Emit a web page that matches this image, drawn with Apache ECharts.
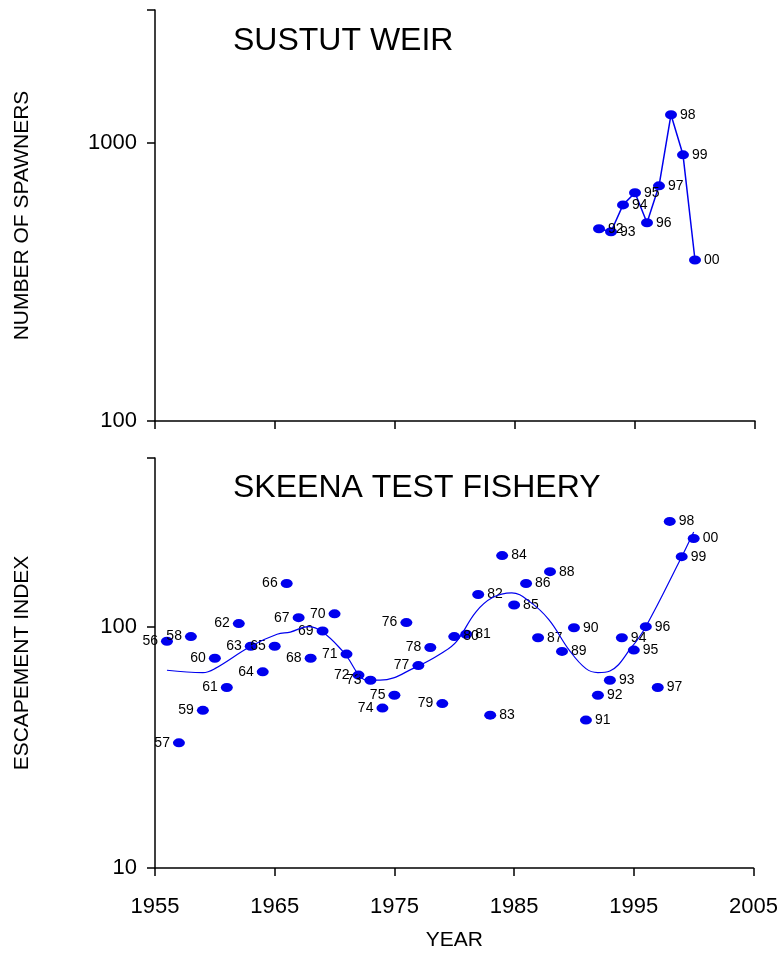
<!DOCTYPE html>
<html><head><meta charset="utf-8">
<script src="https://cdn.jsdelivr.net/npm/echarts@6/dist/echarts.min.js"></script>
<style>html,body{margin:0;background:#fff}#c{width:781px;height:958px}</style>
</head><body><div id="c"></div>
<script>
// Sustut weir counts
const weirYears = [1992, 1993, 1994, 1995, 1996, 1997, 1998, 1999, 2000];
const weirCounts = [491, 479, 598, 661, 516, 700, 1261, 905, 379];

// Skeena test fishery escapement index
const testYears = [1956,1957,1958,1959,1960,1961,1962,1963,1964,1965,1966,1967,1968,1969,1970,1971,1972,1973,1974,1975,1976,1977,1978,1979,1980,1981,1982,1983,1984,1985,1986,1987,1988,1989,1990,1991,1992,1993,1994,1995,1996,1997,1998,1999,2000];
const testIndex = [87,33,91,45,74,56,103,83,65,83,151,109,74,96,113,77,63,60,46,52,104,69,82,48,91,93,136,43,197,123,151,90,169,79,99,41,52,60,90,80,100,56,273,195,232];

// smoothed trend line
const trendYears = [1956,1959,1960,1963,1965.2,1966.3,1967.8,1969,1970.7,1972.8,1973.8,1976.8,1979,1980.2,1981.8,1983.2,1984.8,1986.3,1987.9,1989.6,1991,1992,1993,1994.8,1996,1998.75,2000];
const trendValues = [66,64.5,67,83,93,95,100,95,79,60,60,68,78,87,115,132,138,127,107,80,67,64.5,65.5,82,100,184,247];

const xTicks = [1955, 1965, 1975, 1985, 1995, 2005];

const font = 'Liberation Sans, Arial, sans-serif';
const blue = '#0000ee';
const yy = v => String(v % 100).padStart(2, '0');

function xAxis(idx, showLabels) {
  return {
    gridIndex: idx, type: 'value', min: 1955, max: 2005, interval: 10,
    name: showLabels ? 'YEAR' : '', nameLocation: 'middle', nameGap: 62,
    nameTextStyle: { fontFamily: font, fontSize: 21, color: '#000' },
    axisLine: { onZero: false, lineStyle: { color: '#000', width: 1.5 } },
    axisTick: { show: true, length: 8, lineStyle: { color: '#000', width: 1.5 } },
    axisLabel: { show: showLabels, fontFamily: font, fontSize: 22, color: '#000', margin: 28,
      formatter: v => (xTicks.includes(v) ? String(v) : '') },
    splitLine: { show: false }
  };
}
function yAxis(idx, min, max, name) {
  return {
    gridIndex: idx, type: 'log', logBase: 10, min: min, max: max,
    name: name, nameLocation: 'middle', nameGap: 122,
    nameTextStyle: { fontFamily: font, fontSize: 21, color: '#000' },
    axisLine: { lineStyle: { color: '#000', width: 1.5 } },
    axisTick: { length: 8, lineStyle: { color: '#000', width: 1.5 } },
    axisLabel: { fontFamily: font, fontSize: 22, color: '#000', margin: 18,
      formatter: v => ([10, 100, 1000].includes(Math.round(v)) ? String(Math.round(v)) : '') },
    splitLine: { show: false }
  };
}
const lbl = (pos) => ({ show: true, position: pos, distance: 3, fontFamily: font, fontSize: 14, color: '#000',
  formatter: p => yy(p.value[0]) });

const chart = echarts.init(document.getElementById('c'));
chart.setOption({
  animation: false,
  title: [
    { text: 'SUSTUT WEIR', left: 228, top: 20, textStyle: { fontFamily: font, fontSize: 32, fontWeight: 'normal', color: '#000' } },
    { text: 'SKEENA TEST FISHERY', left: 228, top: 467, textStyle: { fontFamily: font, fontSize: 32, fontWeight: 'normal', color: '#000' } }
  ],
  grid: [
    { left: 155, right: 26, top: 10, height: 411 },
    { left: 155, right: 26, top: 458, height: 410 }
  ],
  xAxis: [xAxis(0, false), xAxis(1, true)],
  yAxis: [yAxis(0, 100, 3000, 'NUMBER OF SPAWNERS'), yAxis(1, 10, 500, 'ESCAPEMENT INDEX')],
  series: [
    { type: 'line', xAxisIndex: 0, yAxisIndex: 0,
      data: weirYears.map((y, i) => [y, weirCounts[i]]),
      symbol: 'circle', symbolSize: [12, 9], itemStyle: { color: blue, opacity: 1 },
      lineStyle: { color: blue, width: 1.5 }, label: lbl('right') },
    { type: 'line', xAxisIndex: 1, yAxisIndex: 1, smooth: 0.4,
      data: trendYears.map((y, i) => [y, trendValues[i]]),
      symbol: 'none', lineStyle: { color: blue, width: 1.2 } },
    { type: 'scatter', xAxisIndex: 1, yAxisIndex: 1,
      data: testYears.map((y, i) => ({ value: [y, testIndex[i]], label: lbl(y < 1980 ? 'left' : 'right') })),
      symbol: 'circle', symbolSize: [12, 9], itemStyle: { color: blue, opacity: 1 } }
  ]
});
</script></body></html>
